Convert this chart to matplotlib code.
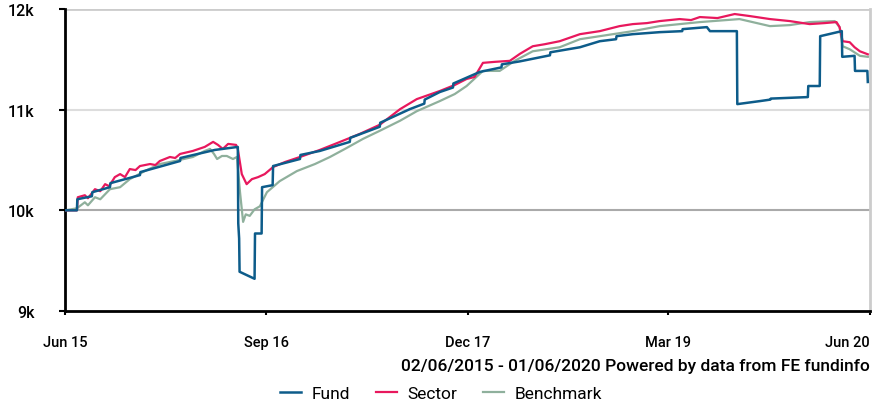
import pandas as pd
import matplotlib
matplotlib.use("Agg")
import matplotlib.pyplot as plt

plt.rcParams['font.family'] = ['Roboto', 'DejaVu Sans']

start = pd.Timestamp("2015-06-02")

# days since 02/06/2015 and value of 10k invested
fund_days = [0, 27, 28, 61, 62, 102, 103, 170, 171, 261, 262, 340, 392, 393, 395, 396,
             430, 431, 446, 447, 471, 472, 533, 534, 578, 646, 647, 714, 715, 782,
             815, 816, 850, 880, 881, 941, 990, 991, 1032, 1100, 1101, 1168, 1213,
             1250, 1251, 1288, 1349, 1400, 1401, 1456, 1463, 1524, 1525, 1576, 1600,
             1601, 1685, 1686, 1712, 1713, 1762, 1763, 1791, 1792, 1820, 1821]
fund_vals = [10000, 10000, 10110, 10140, 10180, 10230, 10270, 10350, 10380, 10490, 10520,
             10600, 10630, 9870, 9720, 9390, 9320, 9770, 9770, 10230, 10250, 10440, 10510,
             10550, 10590, 10680, 10720, 10830, 10870, 11005, 11060, 11100, 11175, 11220,
             11260, 11375, 11420, 11450, 11480, 11540, 11570, 11620, 11680, 11700, 11730,
             11750, 11770, 11780, 11800, 11820, 11780, 11780, 11055, 11085, 11100, 11110,
             11125, 11235, 11235, 11730, 11780, 11525, 11535, 11385, 11385, 11275]

sector_days = [0, 27, 29, 45, 52, 68, 80, 91, 100, 113, 125, 136, 147, 160, 170, 193, 205,
               215, 238, 250, 261, 290, 317, 336, 347, 358, 370, 388, 392, 401, 412, 424,
               438, 453, 472, 499, 533, 578, 624, 669, 714, 760, 798, 850, 884, 911, 929,
               948, 975, 1009, 1032, 1061, 1088, 1122, 1168, 1213, 1258, 1288, 1320, 1349,
               1394, 1420, 1440, 1480, 1519, 1553, 1599, 1644, 1689, 1723, 1750, 1757, 1764,
               1780, 1791, 1803, 1821]
sector_vals = [10000, 10000, 10130, 10150, 10120, 10210, 10190, 10260, 10240, 10330, 10360,
               10330, 10410, 10400, 10440, 10460, 10450, 10490, 10530, 10520, 10560, 10590,
               10630, 10680, 10650, 10610, 10660, 10650, 10610, 10360, 10260, 10310, 10330,
               10360, 10430, 10480, 10530, 10600, 10680, 10760, 10850, 11005, 11105, 11185,
               11245, 11305, 11325, 11465, 11475, 11485, 11555, 11630, 11650, 11680, 11750,
               11780, 11830, 11850, 11860, 11880, 11900, 11890, 11920, 11910, 11950, 11930,
               11900, 11880, 11850, 11860, 11870, 11820, 11680, 11670, 11620, 11580, 11550]

bench_days = [0, 27, 45, 52, 68, 80, 102, 125, 147, 181, 215, 249, 290, 317, 329, 338, 345,
              356, 367, 381, 390, 397, 404, 410, 419, 430, 442, 458, 487, 526, 567, 601,
              635, 676, 714, 760, 798, 850, 884, 911, 948, 986, 1020, 1061, 1122, 1168,
              1213, 1288, 1349, 1440, 1530, 1599, 1644, 1689, 1746, 1757, 1764, 1780,
              1803, 1821]
bench_vals = [10000, 10020, 10080, 10050, 10130, 10110, 10210, 10230, 10310, 10390, 10460,
              10490, 10530, 10590, 10610, 10560, 10510, 10540, 10540, 10510, 10530, 10180,
              9885, 9960, 9945, 10010, 10040, 10180, 10290, 10390, 10460, 10530, 10610,
              10710, 10790, 10890, 10985, 11085, 11155, 11235, 11385, 11385, 11485, 11580,
              11620, 11700, 11730, 11780, 11830, 11870, 11900, 11830, 11840, 11870, 11880,
              11820, 11630, 11600, 11535, 11525]

tick_dates = ["2015-06-02", "2016-09-01", "2017-12-01", "2019-03-01", "2020-06-01"]
tick_labels = ["Jun 15", "Sep 16", "Dec 17", "Mar 19", "Jun 20"]
y_ticks = [9000, 10000, 11000, 12000]
y_labels = ["9k", "10k", "11k", "12k"]


def to_dates(days):
    return [start + pd.Timedelta(days=d) for d in days]


fig = plt.figure(figsize=(8.86, 4.06), dpi=100)
ax = fig.add_axes([65 / 886, 1 - 312 / 406, 805 / 886, 302 / 406])

# gridlines
ax.axhline(12000, color="#cccccc", lw=2, zorder=1)
ax.axhline(11000, color="#dddddd", lw=1.5, zorder=1)
ax.axhline(10000, color="#aaaaaa", lw=1.5, zorder=1)

ax.plot(to_dates(bench_days), bench_vals, color="#8fb09c", lw=1.6, label="Benchmark", zorder=3)
ax.plot(to_dates(sector_days), sector_vals, color="#e8185d", lw=1.6, label="Sector", zorder=4)
ax.plot(to_dates(fund_days), fund_vals, color="#0d5c8a", lw=1.8, label="Fund", zorder=5)

ax.set_ylim(9000, 12000)
ax.set_xlim(start, pd.Timestamp("2020-06-01"))

ax.set_yticks(y_ticks)
ax.set_yticklabels(y_labels, fontsize=11.5, fontweight="medium")
ax.set_xticks([pd.Timestamp(d) for d in tick_dates])
ax.set_xticklabels(tick_labels, fontsize=10.5, fontweight="medium")
ax.get_xticklabels()[-1].set_ha("right")
ax.tick_params(axis="y", length=4, width=1.5, pad=18)
ax.tick_params(axis="x", length=3, width=1.5, pad=14)

for s in ["left", "bottom"]:
    ax.spines[s].set_linewidth(2)
    ax.spines[s].set_color("black")
ax.spines["top"].set_visible(False)
ax.spines["right"].set_color("#cccccc")
ax.spines["right"].set_linewidth(2)

fig.text(870 / 886, 1 - 367 / 406, "02/06/2015 - 01/06/2020 Powered by data from FE fundinfo",
         ha="right", va="center", fontsize=12.5, fontweight="medium")

h, l = ax.get_legend_handles_labels()
order = [2, 1, 0]
fig.legend([h[i] for i in order], [l[i] for i in order], loc="center",
           bbox_to_anchor=(441 / 886, 1 - 394 / 406), ncol=3, frameon=False,
           fontsize=12.5, handlelength=1.2, columnspacing=1.5, handletextpad=0.6)

fig.savefig("out.png", dpi=100)
